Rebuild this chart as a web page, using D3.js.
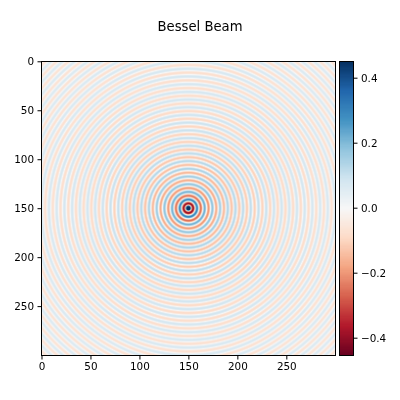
<!DOCTYPE html>
<html>
<head>
<meta charset="utf-8">
<script src="https://cdn.jsdelivr.net/npm/d3@7"></script>
<style>
html,body{margin:0;padding:0;background:#fff;overflow:hidden}
#wrap{position:relative;width:400px;height:400px}
canvas,svg{position:absolute;left:0;top:0}
text{font-family:"DejaVu Sans",sans-serif;fill:#000}
</style>
</head>
<body>
<div id="wrap"><canvas id="cv" width="400" height="400"></canvas><svg id="sv" width="400" height="400"></svg></div>
<script>
// Radial profile read from the rings: ring position (in ring units) and ring value.
const ringRadius = [0,3.83,7.02,10.17,13.32,16.47,19.62,22.76,25.90,29.05,32.19,35.33,38.47,41.62,44.76,47.90,51.04,54.19,57.33,60.47,63.61,66.75,69.90,73.04,76.18,79.32,82.46,85.60,88.75,91.89,95.03,98.17,101.31,104.46,107.60,110.74,113.88,117.02,120.17,123.31,126.45,129.59,132.73,135.87,139.02,142.16,145.30,148.44,151.58,154.73,157.87,161.01,164.15,167.29,170.44,173.58,176.72,179.86,183.00,186.15,189.29,192.43,195.57,198.71,201.85,205.00,208.14,211.28,214.42];
const ringValue = [1,-0.403,0.300,-0.250,0.218,-0.196,0.180,-0.167,0.157,-0.148,0.141,-0.134,0.129,-0.124,0.119,-0.115,0.112,-0.108,0.105,-0.103,0.100,-0.098,0.095,-0.093,0.091,-0.090,0.088,-0.086,0.085,-0.083,0.082,-0.081,0.079,-0.078,0.077,-0.076,0.075,-0.074,0.073,-0.072,0.071,-0.070,0.069,-0.068,0.068,-0.067,0.066,-0.065,0.065,-0.064,0.064,-0.063,0.062,-0.062,0.061,-0.061,0.060,-0.059,0.059,-0.058,0.058,-0.058,0.057,-0.057,0.056,-0.056,0.055,-0.055,0.054];
const cellsPerRingUnit = [1.25];
const gridSize = [300];
const centerCell = [149.5];
const axisTicks = [0,50,100,150,200,250];
const colorTicks = [-0.4,-0.2,0,0.2,0.4];
const colorDomain = [-0.452,0.452];
const rdbuStops = ["#67001f","#b2182b","#d6604d","#f4a582","#fddbc7","#f7f7f7","#d1e5f0","#92c5de","#4393c3","#2166ac","#053061"];
const titleText = ["Bessel Beam"];

const n = gridSize[0];
const L=41.5,R=335.3,T=61.3,B=355.1, cbL=339.6, cbR=353.6;

const x = d3.scaleLinear().domain([-0.5,n-0.5]).range([L,R]);
const y = d3.scaleLinear().domain([-0.5,n-0.5]).range([T,B]);
const cbY = d3.scaleLinear().domain(colorDomain).range([B,T]);
const stopPos = d3.range(rdbuStops.length).map(i=>colorDomain[0]+(colorDomain[1]-colorDomain[0])*i/(rdbuStops.length-1));
const color = d3.scaleLinear().domain(stopPos).range(rdbuStops).interpolate(d3.interpolateRgb).clamp(true);

function profile(r){
  const i = Math.min(d3.bisectRight(ringRadius,r),ringRadius.length-1);
  const r0=ringRadius[i-1], r1=ringRadius[i];
  const t=Math.min(1,(r-r0)/(r1-r0));
  return ringValue[i-1]+(ringValue[i]-ringValue[i-1])*d3.easeSinInOut(t);
}

// heat map
const off=document.createElement('canvas');off.width=n;off.height=n;
const oc=off.getContext('2d');
const img=oc.createImageData(n,n);
for(let j=0;j<n;j++)for(let i=0;i<n;i++){
  const c=d3.rgb(color(profile(Math.hypot(i-centerCell[0],j-centerCell[0])/cellsPerRingUnit[0])));
  const k=(j*n+i)*4;img.data[k]=c.r;img.data[k+1]=c.g;img.data[k+2]=c.b;img.data[k+3]=255;
}
oc.putImageData(img,0,0);
const ctx=document.getElementById('cv').getContext('2d');
ctx.fillStyle='#fff';ctx.fillRect(0,0,400,400);
ctx.imageSmoothingEnabled=true;ctx.imageSmoothingQuality='high';
ctx.drawImage(off,L,T,R-L,B-T);

const svg=d3.select('#sv');
const fs=10.4;

function styleAxis(g){
  g.select('.domain').remove();
  g.selectAll('.tick line').attr('stroke','#000').attr('stroke-width',1);
  g.selectAll('.tick text').attr('font-size',fs).attr('fill','#000').style('font-family','"DejaVu Sans",sans-serif');
}
const snap=v=>Math.floor(v)+0.5;
svg.append('g').attr('transform',`translate(0,${snap(B)})`)
  .call(d3.axisBottom(x).tickValues(axisTicks).tickSize(4).tickPadding(3.5).tickFormat(d3.format('d')).offset(0))
  .call(styleAxis);
svg.append('g').attr('transform',`translate(${snap(L)},0)`)
  .call(d3.axisLeft(y).tickValues(axisTicks).tickSize(4).tickPadding(3.5).tickFormat(d3.format('d')).offset(0))
  .call(styleAxis);
svg.append('rect').attr('x',snap(L)).attr('y',snap(T)).attr('width',snap(R)-snap(L)).attr('height',snap(B)-snap(T))
  .attr('fill','none').attr('stroke','#000').attr('stroke-width',1);

// colour bar
const levels=d3.range(256).map(i=>colorDomain[0]+(colorDomain[1]-colorDomain[0])*(i+0.5)/256);
const bandH=(B-T)/256;
svg.append('g').attr('shape-rendering','crispEdges').selectAll('rect').data(levels).join('rect')
  .attr('x',cbL).attr('width',cbR-cbL)
  .attr('y',d=>cbY(d)-bandH/2-0.3).attr('height',bandH+0.6)
  .attr('fill',d=>color(d));
svg.append('g').attr('transform',`translate(${snap(cbR)},0)`)
  .call(d3.axisRight(cbY).tickValues(colorTicks).tickSize(4).tickPadding(3.5).tickFormat(d=>d3.format('.1f')(d).replace('-','\u2212')).offset(0))
  .call(styleAxis);
svg.append('rect').attr('x',snap(cbL)).attr('y',snap(T)).attr('width',snap(cbR)-snap(cbL)).attr('height',snap(B)-snap(T))
  .attr('fill','none').attr('stroke','#000').attr('stroke-width',1);

svg.append('text').attr('x',200).attr('y',30.5).attr('text-anchor','middle').attr('font-size',13.2).text(titleText[0]);
</script>
</body>
</html>
